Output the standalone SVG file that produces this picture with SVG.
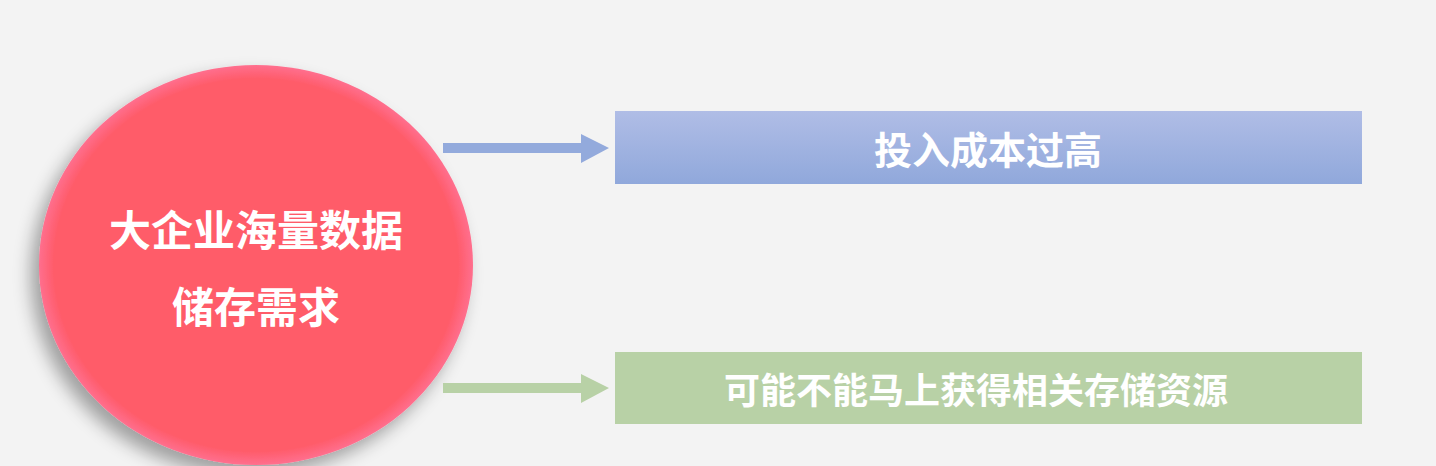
<svg xmlns="http://www.w3.org/2000/svg" width="1436" height="466" viewBox="0 0 1436 466">
<defs>
<radialGradient id="gc" cx="50%" cy="50%" r="50%">
<stop offset="0.93" stop-color="#ff5b69"/>
<stop offset="1" stop-color="#ff6f8e"/>
</radialGradient>
<linearGradient id="gb" x1="0" y1="0" x2="0" y2="1">
<stop offset="0" stop-color="#b0bde6"/>
<stop offset="1" stop-color="#90a8db"/>
</linearGradient>
<filter id="sh" x="-20%" y="-20%" width="140%" height="140%">
<feGaussianBlur in="SourceAlpha" stdDeviation="9"/>
<feOffset dx="-8" dy="10" result="b"/>
<feComponentTransfer><feFuncA type="linear" slope="0.35"/></feComponentTransfer>
<feMerge><feMergeNode/><feMergeNode in="SourceGraphic"/></feMerge>
</filter>
<style>
.t{font-family:"Noto Sans CJK SC","Noto Sans",sans-serif;font-weight:bold;fill:#ffffff;text-anchor:middle}
</style>
</defs>
<rect width="1436" height="466" fill="#f3f3f3"/>
<g id="circle">
<ellipse cx="256" cy="265" rx="217" ry="200" fill="url(#gc)" filter="url(#sh)"/>
<text class="t" x="256" y="246" font-size="42">大企业海量数据</text>
<text class="t" x="256" y="323" font-size="42">储存需求</text>
</g>
<g id="connectors">
<polygon points="443,143 581,143 581,134 609,148 581,163 581,153 443,153" fill="#93aadc"/>
<polygon points="443,383 581,383 581,374 609,388 581,403 581,393 443,393" fill="#b8d1a6"/>
</g>
<g id="box1">
<rect x="615" y="111" width="747" height="73" fill="url(#gb)"/>
<text class="t" x="988" y="164" font-size="38">投入成本过高</text>
</g>
<g id="box2">
<rect x="615" y="352" width="747" height="72" fill="#b8d1a6"/>
<text class="t" x="976" y="404" font-size="36">可能不能马上获得相关存储资源</text>
</g>
</svg>
